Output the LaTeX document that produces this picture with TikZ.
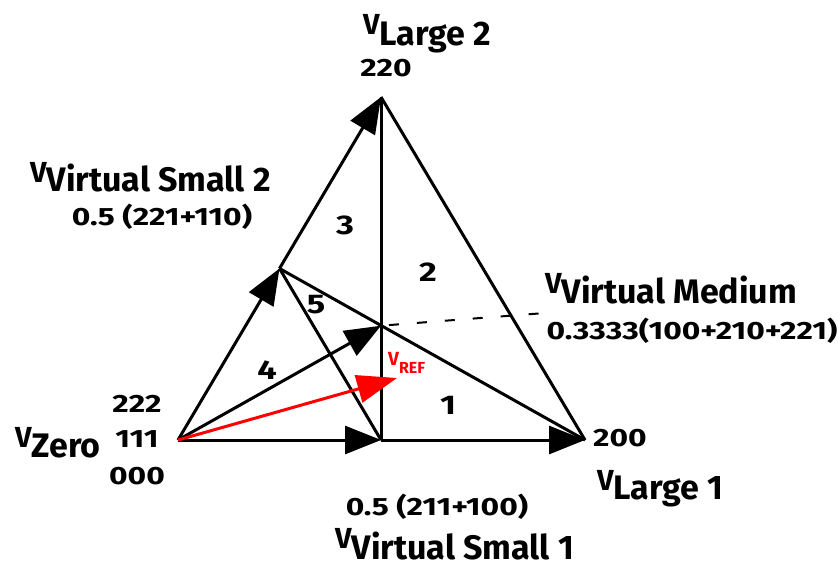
\documentclass[tikz,border=0pt]{standalone}
\usepackage{fontspec}
\setmainfont{Fira Sans}
\newfontfamily\numfont[FakeStretch=1.27]{Fira Sans}
\usetikzlibrary{arrows.meta}
\newcommand{\vlab}[2][10pt]{{\fontsize{29}{29}\selectfont\raisebox{#1}{V}}{\fontsize{34}{34}\selectfont #2}}
\newcommand{\numtxt}{\numfont\fontsize{25}{25}\selectfont}
\begin{document}
\begin{tikzpicture}[x=1pt,y=-1pt,
  seg/.style={line width=3pt},
  arr/.style={line width=3pt,-{Triangle[length=36pt,width=28pt]}},
  redarr/.style={line width=3pt,red,-{Triangle[length=40pt,width=28pt]}},
  dashline/.style={line width=2pt,dash pattern=on 10pt off 18pt,dash phase=-8pt},
  lab/.style={inner sep=0pt,anchor=base west,font=\bfseries},
  num/.style={inner sep=0pt,anchor=center,font=\numtxt\bfseries},
  region/.style={inner sep=0pt,anchor=center,font=\numfont\bfseries\fontsize{27}{27}\selectfont}]
\useasboundingbox (0,0) rectangle (838,567);
\coordinate (Z) at (178,440);
\coordinate (S1) at (381,440);
\coordinate (L1) at (585,440);
\coordinate (L2) at (381,97);
\coordinate (S2) at (279.5,268.5);
\coordinate (M) at (381,325.7);
\coordinate (R) at (397,378);
\coordinate (Me) at (545,313);
% structure
\draw[seg] (L2) -- (L1);
\draw[seg] (L2) -- (S1);
\draw[seg] (S2) -- (S1);
\draw[seg] (S2) -- (L1);
\draw[dashline] (M) -- (Me);
\draw[arr] (Z) -- (S1);
\draw[arr] (S1) -- (L1);
\draw[arr] (Z) -- (S2);
\draw[arr] (S2) -- (L2);
\draw[arr] (Z) -- (M);
\draw[redarr] (Z) -- (R);
% region numbers
\node[region] (r1) at (448,405) {1};
\node[region] (r2) at (428,272) {2};
\node[region] (r3) at (345,225) {3};
\node[region] (r4) at (267,370) {4};
\node[region] (r5) at (316,305) {5};
% labels
\node[lab] (tL2) at (363,46) {\vlab[11pt]{Large 2}};
\node[num] (nL2) at (386,68) {220};
\node[lab] (tS2) at (30,191) {\vlab[9pt]{Virtual Small 2}};
\node[num] (nS2) at (162,217) {0.5 (221+110)};
\node[lab] (tZ) at (15,457) {\vlab{Zero}};
\node[num] (n222) at (137,404) {222};
\node[num] (n111) at (137,439) {111};
\node[num] (n000) at (137,476) {000};
\node[lab] (tM) at (545,303) {\vlab{Virtual Medium}};
\node[num] (nM) at (692,331) {0.3333(100+210+221)};
\node[num] (nL1) at (620,438.5) {200};
\node[lab] (tL1) at (597,499) {\vlab[9pt]{Large 1}};
\node[num] (nS1) at (437,507) {0.5 (211+100)};
\node[lab] (tS1) at (335,559) {\vlab[11pt]{Virtual Small 1}};
\node[lab,text=red] (tR) at (388,365) {{\fontsize{19}{19}\selectfont V}\raisebox{-8pt}{\fontsize{16}{16}\selectfont REF}};
\end{tikzpicture}
\end{document}
